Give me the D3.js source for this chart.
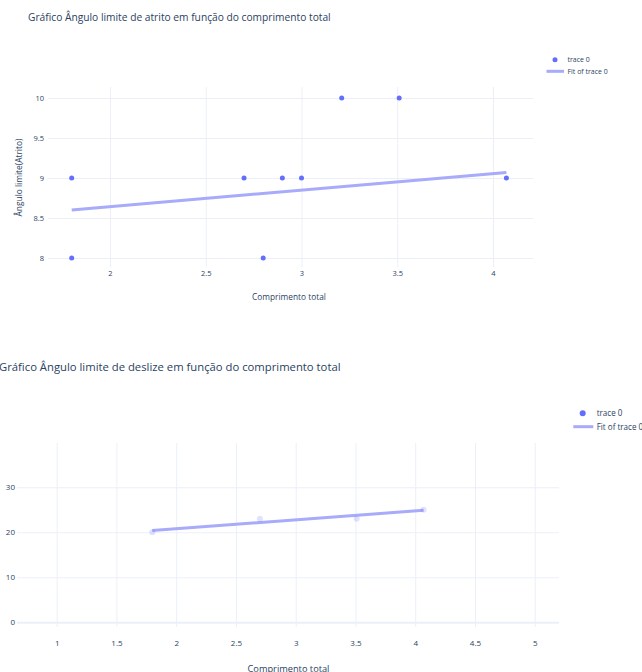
<!DOCTYPE html>
<html>
<head>
<meta charset="utf-8">
<script src="https://cdn.jsdelivr.net/npm/d3@7"></script>
<style>
  html, body { margin: 0; padding: 0; background: #fff; }
  svg { display: block; }
  text { font-family: "Open Sans", "DejaVu Sans", sans-serif; fill: #2a3f5f; }
</style>
</head>
<body>
<svg id="chart" width="642" height="672"></svg>
<script>
// Ângulo limite de atrito vs comprimento total
const comprimentoAtrito = [1.8, 1.8, 2.7, 2.8, 2.9, 3.0, 3.21, 3.51, 4.07];
const anguloAtrito      = [9, 8, 9, 8, 9, 9, 10, 10, 9];
const fitAtritoX        = [1.8, 4.07];
const fitAtritoY        = [8.6, 9.07];
const xTicksAtrito      = [2, 2.5, 3, 3.5, 4];
const yTicksAtrito      = [8, 8.5, 9, 9.5, 10];

// Ângulo limite de deslize vs comprimento total
const comprimentoDeslize = [1.8, 2.7, 3.51, 4.07];
const anguloDeslize      = [20, 23, 23, 25];
const fitDeslizeX        = [1.8, 4.07];
const fitDeslizeY        = [20.4, 24.9];
const xTicksDeslize      = [1, 1.5, 2, 2.5, 3, 3.5, 4, 4.5, 5];
const yTicksDeslize      = [0, 10, 20, 30];

const legendLabels = ["trace 0", "Fit of trace 0"];

const MARKER = "#636efa";
const FIT = "#a7abfa";
const GRID = "#ebf0f8";

const svg = d3.select("#chart");
svg.append("rect").attr("width", 642).attr("height", 672).attr("fill", "#fff");

// scale a text element's font so it spans the given width
function fitWidth(sel, width) {
  sel.style("font-size", "10px");
  const w = sel.node().getComputedTextLength();
  sel.style("font-size", (10 * width / w) + "px");
  return sel;
}

const fmt = d => d3.format("~g")(d);

function drawPanel(p) {
  const g = svg.append("g");
  const x = d3.scaleLinear().domain(p.xDomain).range([p.left, p.right]);
  const y = d3.scaleLinear().domain(p.yDomain).range([p.bottom, p.top]);
  const w = p.right - p.left, h = p.bottom - p.top;

  // vertical grid + x tick labels
  const xa = g.append("g").attr("transform", `translate(0,${p.bottom})`)
    .call(d3.axisBottom(x).tickValues(p.xTicks).tickFormat(fmt)
      .tickSize(-h).tickPadding(p.xPad));
  // horizontal grid + y tick labels
  const ya = g.append("g").attr("transform", `translate(${p.left},0)`)
    .call(d3.axisLeft(y).tickValues(p.yTicks).tickFormat(fmt)
      .tickSize(-w).tickPadding(p.yPad));
  [xa, ya].forEach(a => {
    a.select(".domain").remove();
    a.selectAll("line").attr("stroke", GRID).attr("stroke-width", 1);
    a.selectAll("text").style("font-size", p.tickFont + "px")
      .style("font-family", '"Open Sans", sans-serif').attr("fill", "#2a3f5f");
  });
  if (p.zeroLine) {
    ya.selectAll(".tick").filter(d => d === 0).select("line")
      .attr("stroke-width", 2);
  }

  // fit line
  const fitData = p.fitX.map((v, i) => [v, p.fitY[i]]);
  g.append("path").datum(fitData)
    .attr("d", d3.line().x(d => x(d[0])).y(d => y(d[1])))
    .attr("fill", "none").attr("stroke", FIT).attr("stroke-width", p.lineW);

  // points
  g.append("g").selectAll("circle")
    .data(p.xs.map((v, i) => [v, p.ys[i]]))
    .join("circle")
    .attr("cx", d => x(d[0])).attr("cy", d => y(d[1]))
    .attr("r", p.r).attr("fill", MARKER).attr("fill-opacity", p.pointOpacity);

  // title
  fitWidth(g.append("text").attr("x", p.titleX).attr("y", p.titleY)
    .attr("dy", "0.35em").text(p.title), p.titleW);

  // axis titles
  fitWidth(g.append("text").attr("x", p.xTitleX).attr("y", p.xTitleY)
    .attr("dy", "0.35em").attr("text-anchor", "middle")
    .text("Comprimento total"), p.xTitleW);
  if (p.yTitle) {
    fitWidth(g.append("text")
      .attr("transform", `translate(${p.yTitleX},${p.yTitleY}) rotate(-90)`)
      .attr("dy", "0.35em").attr("text-anchor", "middle")
      .text(p.yTitle), p.yTitleW);
  }

  // legend
  const L = p.legend;
  g.append("circle").attr("cx", L.markX).attr("cy", L.y1).attr("r", p.r)
    .attr("fill", MARKER);
  g.append("line").attr("x1", L.lineX1).attr("x2", L.lineX2)
    .attr("y1", L.y2).attr("y2", L.y2)
    .attr("stroke", FIT).attr("stroke-width", p.lineW);
  const t1 = g.append("text").attr("x", L.textX).attr("y", L.y1)
    .attr("dy", "0.35em").text(legendLabels[0]);
  fitWidth(t1, L.w1);
  g.append("text").attr("x", L.textX).attr("y", L.y2)
    .attr("dy", "0.35em").style("font-size", t1.style("font-size"))
    .text(legendLabels[1]);
}

drawPanel({
  xs: comprimentoAtrito, ys: anguloAtrito, fitX: fitAtritoX, fitY: fitAtritoY,
  xTicks: xTicksAtrito, yTicks: yTicksAtrito,
  xDomain: [1.6762, 4.2089], yDomain: [7.8875, 10.1375],
  left: 48, right: 533, top: 87, bottom: 267,
  xPad: 4, yPad: 4, tickFont: 7.5, r: 2.5, lineW: 3, pointOpacity: 1,
  title: "Gráfico Ângulo limite de atrito em função do comprimento total",
  titleX: 28, titleY: 17.3, titleW: 303,
  xTitleX: 289, xTitleY: 297.3, xTitleW: 74,
  yTitle: "Ângulo limite(Atrito)", yTitleX: 19.5, yTitleY: 177.5, yTitleW: 78,
  legend: { markX: 555, lineX1: 546.5, lineX2: 564, textX: 567.5,
            y1: 59.7, y2: 71.3, w1: 22.3 }
});

drawPanel({
  xs: comprimentoDeslize, ys: anguloDeslize, fitX: fitDeslizeX, fitY: fitDeslizeY,
  xTicks: xTicksDeslize, yTicks: yTicksDeslize,
  xDomain: [0.668, 5.203], yDomain: [-1.04, 39.84],
  left: 17, right: 559, top: 443, bottom: 627,
  xPad: 13, yPad: 2, tickFont: 8, r: 3, lineW: 3, pointOpacity: 0.2,
  zeroLine: true,
  title: "Gráfico Ângulo limite de deslize em função do comprimento total",
  titleX: -1, titleY: 366.7, titleW: 342,
  xTitleX: 288.5, xTitleY: 668.5, xTitleW: 82,
  legend: { markX: 582.7, lineX1: 573.3, lineX2: 593.3, textX: 596.7,
            y1: 413.3, y2: 426.7, w1: 25.7 }
});
</script>
</body>
</html>
